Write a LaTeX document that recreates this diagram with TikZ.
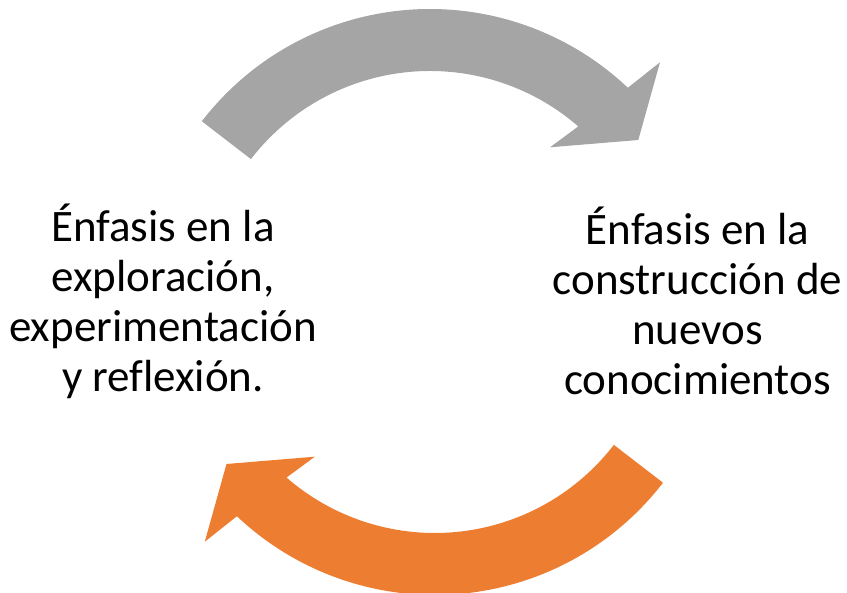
\documentclass[tikz,border=0pt]{standalone}
\usepackage{fontspec}
\setmainfont{Carlito}[Ligatures=NoCommon]
\definecolor{arrowgrey}{HTML}{A5A5A5}
\definecolor{arroworange}{HTML}{ED7D31}
\tikzset{
  phase/.style={align=center, font=\fontsize{45}{50}\selectfont, inner sep=0pt},
}
\newcommand{\cyclearrow}[1]{%
  \fill [#1] ([shift={(430,296)}]142.4:288) arc [start angle=142.4, end angle=46.6, radius=288]
    -- (660,530.7) -- (638.3,453) -- (550,445.7)
    -- ([shift={(430,296)}]49:226) arc [start angle=49, end angle=142.4, radius=226] -- cycle;}
\begin{document}
\begin{tikzpicture}[x=1pt, y=1pt]
    \useasboundingbox (0,0) rectangle (847,593);
    % arrows
    \cyclearrow{arrowgrey}
    \begin{scope}[rotate around={180:(432.4,291)}]
      \cyclearrow{arroworange}
    \end{scope}
    % texts
    \node [phase] (explore) at (163,292) {Énfasis en la\\exploración,\\experimentación\\y reflexión.};
    \node [phase] (build) at (697.5,292) {Énfasis en la\\construcción de\\nuevos\\conocimientos};
\end{tikzpicture}
\end{document}
